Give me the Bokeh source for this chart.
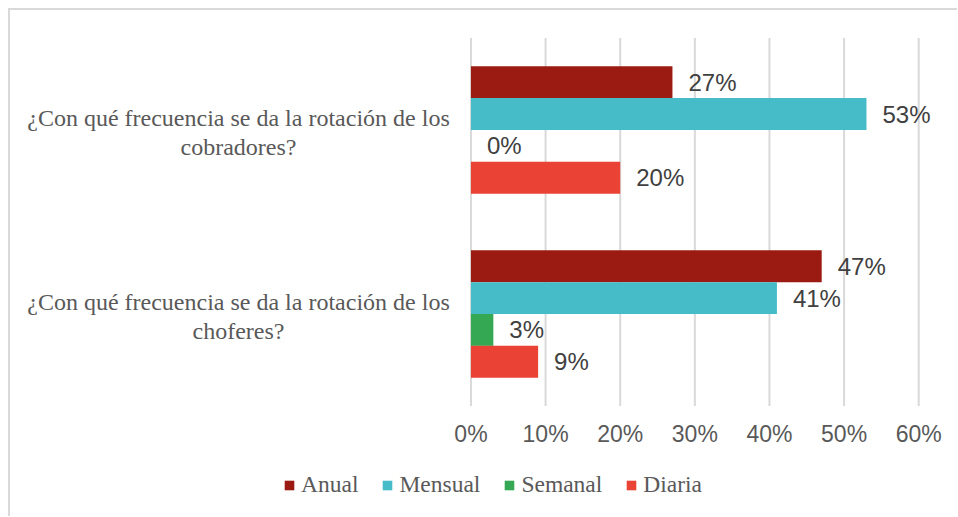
from bokeh.plotting import figure
from bokeh.models import ColumnDataSource, Range1d, Legend, LegendItem
from bokeh.core.properties import value
from bokeh.embed import file_html
from bokeh.resources import INLINE

# ---- data ----
categories = ["choferes", "cobradores"]          # bottom -> top
question_line1 = ["¿Con qué frecuencia se da la rotación de los",
                  "¿Con qué frecuencia se da la rotación de los"]
question_line2 = ["choferes?", "cobradores?"]

series = ["Anual", "Mensual", "Semanal", "Diaria"]
anual = [0.47, 0.27]
mensual = [0.41, 0.53]
semanal = [0.03, 0.00]
diaria = [0.09, 0.20]

x_ticks = [0, 0.1, 0.2, 0.3, 0.4, 0.5, 0.6]
x_tick_labels = ["0%", "10%", "20%", "30%", "40%", "50%", "60%"]

# ---- layout / styles ----
colors = ["#9B1B12", "#45BCC7", "#34A853", "#EA4335"]
bar_h = 0.173
offsets = [1.5 * bar_h, 0.5 * bar_h, -0.5 * bar_h, -1.5 * bar_h]
PX_X = 744.7          # pixels per 100 % on x
PX_Y = 183.35         # pixels per category band on y
LEFT_PX, RIGHT_PX = 459.5, 40.7     # frame left -> 0 %, 60 % -> frame right
TOP_PX, BOTTOM_PX = 27.3, 112       # frame top -> plot top, plot bottom -> frame bottom
LABEL_CENTER_PX = 232.0             # category label centre, left of 0 %

n = len(categories)
ypos = [i + 0.5 for i in range(n)]

p = figure(width=949, height=508,
           x_range=Range1d(-LEFT_PX / PX_X, x_ticks[-1] + RIGHT_PX / PX_X),
           y_range=Range1d(-BOTTOM_PX / PX_Y, n + TOP_PX / PX_Y),
           x_axis_location=None, y_axis_location=None,
           output_backend="svg", toolbar_location=None,
           min_border=0)
p.styles = {"border-top": "2px solid #d9d9d9", "border-left": "2px solid #d9d9d9",
            "margin": "8px 0 0 8px"}
p.outline_line_color = None
p.grid.visible = False

# vertical gridlines over the plot area
p.segment(x0=x_ticks, x1=x_ticks, y0=[0] * len(x_ticks), y1=[n] * len(x_ticks),
          line_color="#d9d9d9", line_width=2)

# x tick labels
p.text(x=x_ticks, y=[0] * len(x_ticks), text=x_tick_labels, y_offset=28,
       text_align="center", text_baseline="middle",
       text_font=value("Liberation Sans"), text_font_size="23px",
       text_color="#595959")

items = []
for name, vals, col, off in zip(series, [anual, mensual, semanal, diaria], colors, offsets):
    src = ColumnDataSource(dict(y=[yy + off for yy in ypos], val=vals,
                                lbl=[f"{round(v * 100)}%" for v in vals]))
    r = p.hbar(y="y", left=0, right="val", height=bar_h,
               fill_color=col, line_color=None, source=src)
    items.append(LegendItem(label=name, renderers=[r]))
    p.text(x="val", y="y", text="lbl",
           x_offset=16, text_baseline="middle", text_align="left",
           text_font=value("Liberation Sans"), text_font_size="24px",
           text_color="#404040", source=src)

# category labels (two lines, centred)
qsrc = ColumnDataSource(dict(y=ypos + ypos,
                             txt=question_line1 + question_line2,
                             yo=[-12] * n + [17] * n))
p.text(x=-LABEL_CENTER_PX / PX_X, y="y", text="txt", y_offset="yo",
       text_align="center", text_baseline="middle",
       text_font=value("Liberation Serif"), text_font_size="24px",
       text_color="#595959", source=qsrc)

legend = Legend(items=items, orientation="horizontal", location=(273, 20),
                glyph_width=12, glyph_height=12, label_standoff=6, spacing=23,
                padding=0, margin=0, border_line_color=None,
                background_fill_alpha=0,
                label_text_font="Liberation Serif", label_text_font_size="23.5px",
                label_text_color="#595959")
p.add_layout(legend)

open("out.html", "w").write(file_html(p, INLINE))
